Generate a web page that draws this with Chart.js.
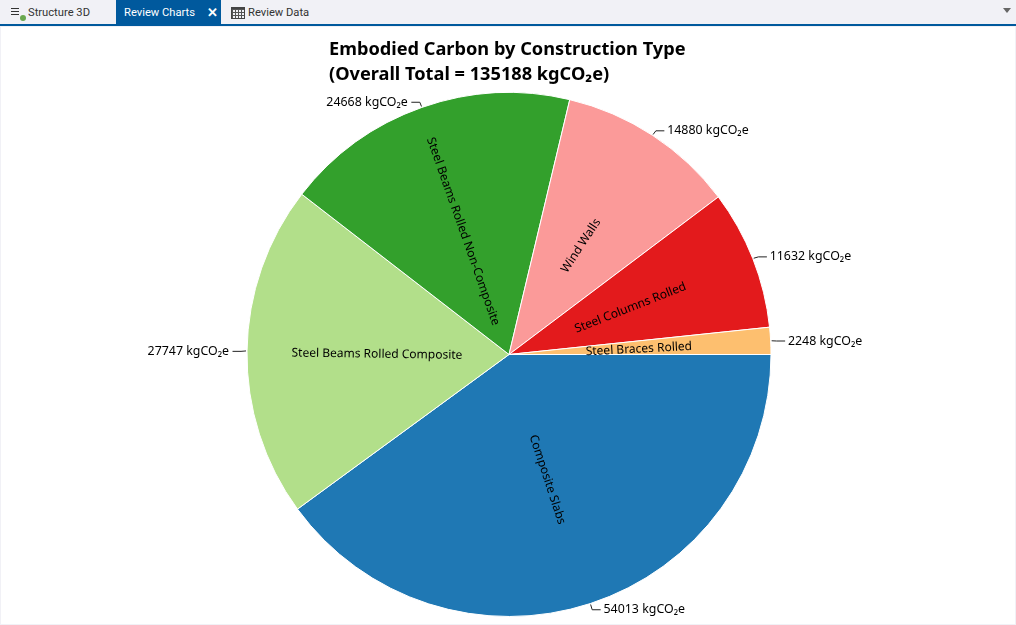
<!DOCTYPE html>
<html>
<head>
<meta charset="utf-8">
<title>Embodied Carbon</title>
<script src="https://cdn.jsdelivr.net/npm/chart.js@4"></script>
<style>
html, body { margin: 0; padding: 0; width: 1016px; height: 625px; overflow: hidden; background: #fff; font-family: "Noto Sans", sans-serif; }
#tabs { position: absolute; left: 0; top: 0; width: 1016px; height: 24px; background: #f1f1f6; border-bottom: 2px solid #00599d; font-family: Roboto, sans-serif; font-size: 11.2px; color: #333; }
.tab { position: absolute; top: 5px; line-height: 16px; white-space: nowrap; }
#active { position: absolute; left: 116px; top: 0; width: 105px; height: 24px; background: #00599d; }
#close { position: absolute; left: 207px; top: 4px; color: #fff; font-size: 13px; line-height: 18px; font-weight: bold; }
.bars { position: absolute; left: 11px; top: 8px; width: 8px; height: 7px; background: repeating-linear-gradient(#333 0 1px, transparent 1px 3px); }
.dot { position: absolute; left: 20px; top: 15px; width: 6px; height: 6px; border-radius: 50%; background: #6aa84f; }
.grid { position: absolute; left: 231px; top: 7px; width: 14px; height: 12px; border: 1px solid #444; border-top-width: 2px; box-sizing: border-box; background: repeating-linear-gradient(90deg, #555 0 1px, transparent 1px 3px), repeating-linear-gradient(#555 0 1px, transparent 1px 3px); }
.arrow { position: absolute; left: 1003px; top: 8px; width: 0; height: 0; border-left: 4px solid transparent; border-right: 4px solid transparent; border-top: 5px solid #666; }
#title { position: absolute; left: 329px; top: 36px; font-size: 18.2px; font-weight: bold; line-height: 25px; color: #000; white-space: nowrap; }
#wrap { position: absolute; left: 0; top: 26px; width: 1016px; height: 599px; }
#frame { position: absolute; left: 0; top: 26px; width: 1014px; height: 597px; border: 1px solid #f1f1f6; pointer-events: none; }
</style>
</head>
<body>
<div id="tabs">
  <div class="bars"></div><div class="dot"></div>
  <div class="tab" style="left:28px">Structure 3D</div>
  <div id="active"></div>
  <div class="tab" style="left:124px;color:#fff">Review Charts</div>
  <div id="close">✕</div>
  <div class="grid"></div>
  <div class="tab" style="left:248px">Review Data</div>
  <div class="arrow"></div>
</div>
<div id="wrap"><canvas id="myChart" width="1016" height="599"></canvas></div>
<div id="frame"></div>
<div id="title">Embodied Carbon by Construction Type<br>(Overall Total = 135188 kgCO₂e)</div>
<script>
var categories = ['Composite Slabs', 'Steel Beams Rolled Composite', 'Steel Beams Rolled Non-Composite', 'Wind Walls', 'Steel Columns Rolled', 'Steel Braces Rolled'];
var values = [54013, 27747, 24668, 14880, 11632, 2248];
var colours = ['#1f78b4', '#b2df8a', '#33a02c', '#fb9a99', '#e31a1c', '#fdbf6f'];
var unit = 'kgCO₂e';

// slice names inside, values on leader lines outside
var sliceLabels = {
    id: 'sliceLabels',
    afterDatasetsDraw: function(chart) {
        var ctx = chart.ctx;
        var arcs = chart.getDatasetMeta(0).data;
        ctx.save();
        ctx.fillStyle = '#000';
        ctx.textBaseline = 'middle';
        for (var i = 0; i < arcs.length; i++) {
            var a = arcs[i];
            var mid = (a.startAngle + a.endAngle) / 2;
            var cos = Math.cos(mid);
            var sin = Math.sin(mid);

            // name, turned along the radius and kept readable
            var rot = mid;
            if (cos < 0) rot = mid - Math.PI;
            ctx.save();
            ctx.font = '12px "Noto Sans"';
            ctx.translate(a.x - 1 + cos * a.outerRadius / 2, a.y + sin * a.outerRadius / 2);
            ctx.rotate(rot);
            ctx.textAlign = 'center';
            ctx.fillText(categories[i], 0, 1.5);
            ctx.restore();

            // leader
            var right = cos >= 0;
            var x1 = a.x + cos * (a.outerRadius + 1);
            var y1 = a.y + sin * (a.outerRadius + 1);
            var x2 = a.x + cos * (a.outerRadius + 6);
            var y2 = a.y + sin * (a.outerRadius + 6) + 0.5;
            var x3 = x2 + (right ? 8.5 : -8.5);
            ctx.strokeStyle = '#222';
            ctx.lineWidth = 1;
            ctx.beginPath();
            ctx.moveTo(x1, y1);
            ctx.lineTo(x2, y2);
            ctx.lineTo(x3, y2);
            ctx.stroke();

            ctx.font = '12.4px "Noto Sans"';
            ctx.textAlign = right ? 'left' : 'right';
            ctx.fillText(values[i] + ' ' + unit, x3 + (right ? 2.8 : -3.5), y2);
        }
        ctx.restore();
    }
};

var ctx = document.getElementById('myChart').getContext('2d');
var chart = new Chart(ctx, {
    type: 'pie',
    data: {
        labels: categories,
        datasets: [{
            data: values,
            backgroundColor: colours,
            borderColor: '#fff',
            borderWidth: 1
        }]
    },
    options: {
        responsive: false,
        animation: false,
        rotation: 90,
        layout: { padding: { top: 66, bottom: 8, left: 2, right: 0 } },
        plugins: {
            legend: { display: false },
            tooltip: { enabled: false }
        }
    },
    plugins: [sliceLabels]
});
</script>
</body>
</html>
